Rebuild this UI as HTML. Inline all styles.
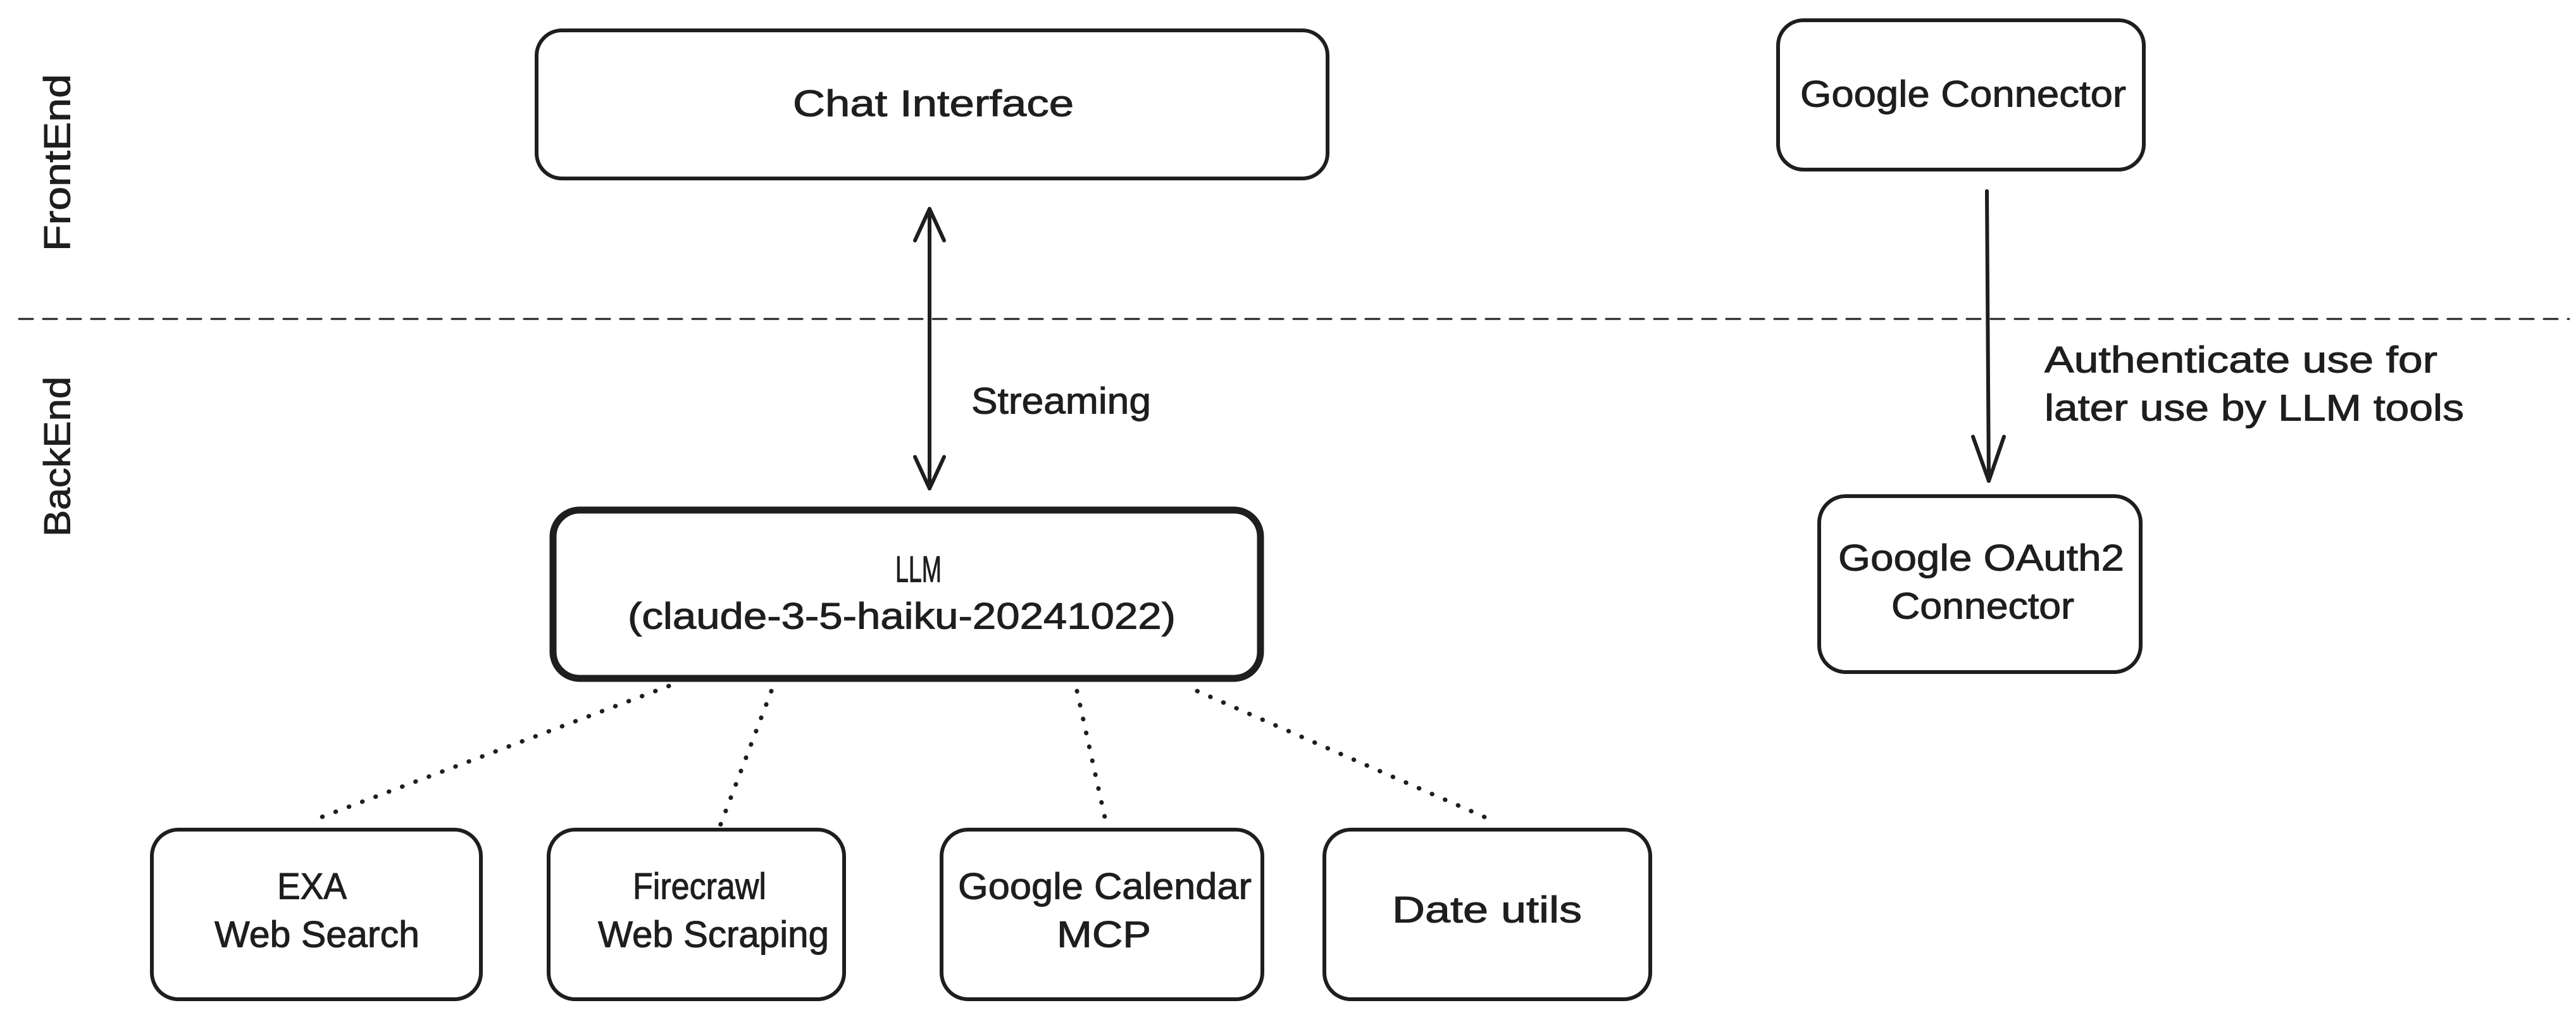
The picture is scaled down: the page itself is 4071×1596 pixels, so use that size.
<!DOCTYPE html>
<html><head><style>html,body{margin:0;padding:0;background:#fff}svg{display:block}</style></head>
<body>
<svg width="4071" height="1596" viewBox="0 0 4071 1596" xmlns="http://www.w3.org/2000/svg" font-family="Liberation Sans, sans-serif" font-size="58" fill="#1e1e1e">
<g fill="none" stroke="#1e1e1e" stroke-linecap="round" stroke-linejoin="round">
<rect x="848" y="48" width="1250" height="234" rx="40" stroke-width="6"/>
<rect x="2810" y="32" width="578" height="236" rx="40" stroke-width="6"/>
<rect x="874" y="806" width="1118" height="266" rx="42" stroke-width="11"/>
<rect x="2875" y="784" width="508" height="278" rx="42" stroke-width="6"/>
<rect x="240" y="1311" width="520" height="268" rx="42" stroke-width="6"/>
<rect x="867" y="1311" width="467" height="268" rx="42" stroke-width="6"/>
<rect x="1488" y="1311" width="507" height="268" rx="42" stroke-width="6"/>
<rect x="2093" y="1311" width="515" height="268" rx="42" stroke-width="6"/>
<line x1="30" y1="504" x2="4060" y2="504" stroke-width="3" stroke-dasharray="22 16"/>
<line x1="1469" y1="330" x2="1469" y2="772" stroke-width="6"/>
<polyline points="1446,380 1469,330 1492,380" stroke-width="6"/>
<polyline points="1446,722 1469,772 1492,722" stroke-width="6"/>
<line x1="3140" y1="302" x2="3143" y2="760" stroke-width="6"/>
<polyline points="3118,690 3143,760 3167,690" stroke-width="6"/>
<g stroke-width="7" stroke-dasharray="0.5 22">
<line x1="1057" y1="1084" x2="490" y2="1298"/>
<line x1="1219" y1="1092" x2="1138" y2="1305"/>
<line x1="1702" y1="1092" x2="1749" y2="1305"/>
<line x1="1892" y1="1092" x2="2362" y2="1298"/>
</g>
</g>
<g text-anchor="start" dominant-baseline="central" stroke="#1e1e1e" stroke-width="1">
<text x="1253" y="164" textLength="444" lengthAdjust="spacingAndGlyphs">Chat Interface</text>
<text x="2845" y="149" textLength="515" lengthAdjust="spacingAndGlyphs">Google Connector</text>
<text x="1535" y="634" textLength="284" lengthAdjust="spacingAndGlyphs">Streaming</text>
<text x="3231" y="569" textLength="621" lengthAdjust="spacingAndGlyphs">Authenticate use for</text>
<text x="3231" y="645" textLength="663" lengthAdjust="spacingAndGlyphs">later use by LLM tools</text>
<text x="1415" y="900" textLength="73" lengthAdjust="spacingAndGlyphs">LLM</text>
<text x="992" y="974" textLength="866" lengthAdjust="spacingAndGlyphs">(claude-3-5-haiku-20241022)</text>
<text x="2905" y="882" textLength="452" lengthAdjust="spacingAndGlyphs">Google OAuth2</text>
<text x="2989" y="958" textLength="289" lengthAdjust="spacingAndGlyphs">Connector</text>
<text x="438" y="1401" textLength="110" lengthAdjust="spacingAndGlyphs">EXA</text>
<text x="339" y="1477" textLength="324" lengthAdjust="spacingAndGlyphs">Web Search</text>
<text x="1000" y="1401" textLength="211" lengthAdjust="spacingAndGlyphs">Firecrawl</text>
<text x="945" y="1477" textLength="365" lengthAdjust="spacingAndGlyphs">Web Scraping</text>
<text x="1514" y="1401" textLength="464" lengthAdjust="spacingAndGlyphs">Google Calendar</text>
<text x="1670" y="1477" textLength="149" lengthAdjust="spacingAndGlyphs">MCP</text>
<text x="2200" y="1438" textLength="300" lengthAdjust="spacingAndGlyphs">Date utils</text>
<text transform="translate(91,397) rotate(-90)" x="0" y="0" textLength="280" lengthAdjust="spacingAndGlyphs">FrontEnd</text>
<text transform="translate(91,848) rotate(-90)" x="0" y="0" textLength="253" lengthAdjust="spacingAndGlyphs">BackEnd</text>
</g>
</svg>
</body></html>
